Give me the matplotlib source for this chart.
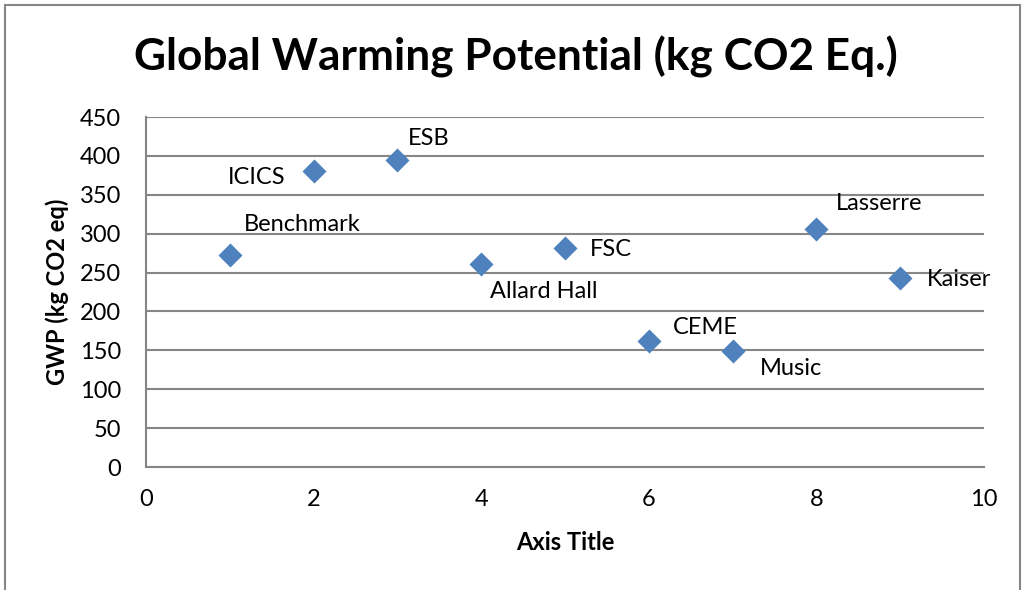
import matplotlib
matplotlib.use("Agg")
import matplotlib.pyplot as plt
from matplotlib.patches import Rectangle

# data
buildings = ["Benchmark", "ICICS", "ESB", "Allard Hall", "FSC", "CEME", "Music", "Lasserre", "Kaiser"]
x_vals = [1, 2, 3, 4, 5, 6, 7, 8, 9]
gwp = [273, 381, 395, 261, 281, 162, 149, 306, 243]

# label placement (pixel offsets from point) and alignment
label_offsets = [(14, 30), (-28, -7), (10, 21), (9, -28), (25, -1), (24, 14), (27, -17), (19, 25), (27, -1)]
label_ha = ["left", "right", "left", "left", "left", "left", "left", "left", "left"]

plt.rcParams["font.family"] = ["Lato", "DejaVu Sans"]
grey = "#868686"
blue = "#4F81BD"
fs = 17

fig = plt.figure(figsize=(10.27, 5.9), dpi=100)
ax = fig.add_axes([146 / 1027, 123 / 590, 838 / 1027, 350 / 590])

ax.scatter(x_vals, gwp, marker="D", s=150, color=blue, zorder=3, linewidths=0)
for xv, yv, name, off, ha in zip(x_vals, gwp, buildings, label_offsets, label_ha):
    ax.annotate(name, (xv, yv), xytext=off, textcoords="offset pixels",
                ha=ha, va="center", fontsize=fs)

ax.set_xlim(0, 10)
ax.set_ylim(0, 450)
ax.set_xticks(range(0, 11, 2))
ax.set_yticks(range(0, 451, 50))
ax.tick_params(length=0, labelsize=fs)
ax.tick_params(axis="y", pad=18)
ax.tick_params(axis="x", pad=16)
ax.grid(axis="y", color=grey, linewidth=1.5)
ax.set_axisbelow(True)
for side in ["top", "right"]:
    ax.spines[side].set_visible(False)
for side in ["left", "bottom"]:
    ax.spines[side].set_color(grey)
    ax.spines[side].set_linewidth(1.5)

ax.set_xlabel("Axis Title", fontsize=fs, fontweight="bold", labelpad=15)
ax.set_ylabel("GWP (kg CO2 eq)", fontsize=fs, fontweight="bold", labelpad=8)
fig.text(516 / 1027, 1 - 57 / 590, "Global Warming Potential (kg CO2 Eq.)",
         ha="center", va="center", fontsize=31.8, fontweight="bold")

fig.patches.append(Rectangle((5 / 1027, -0.05), 1015 / 1027, 1.05 - 5 / 590,
                             transform=fig.transFigure, fill=False,
                             edgecolor=grey, linewidth=1.5))

fig.savefig("out.png", dpi=100)
